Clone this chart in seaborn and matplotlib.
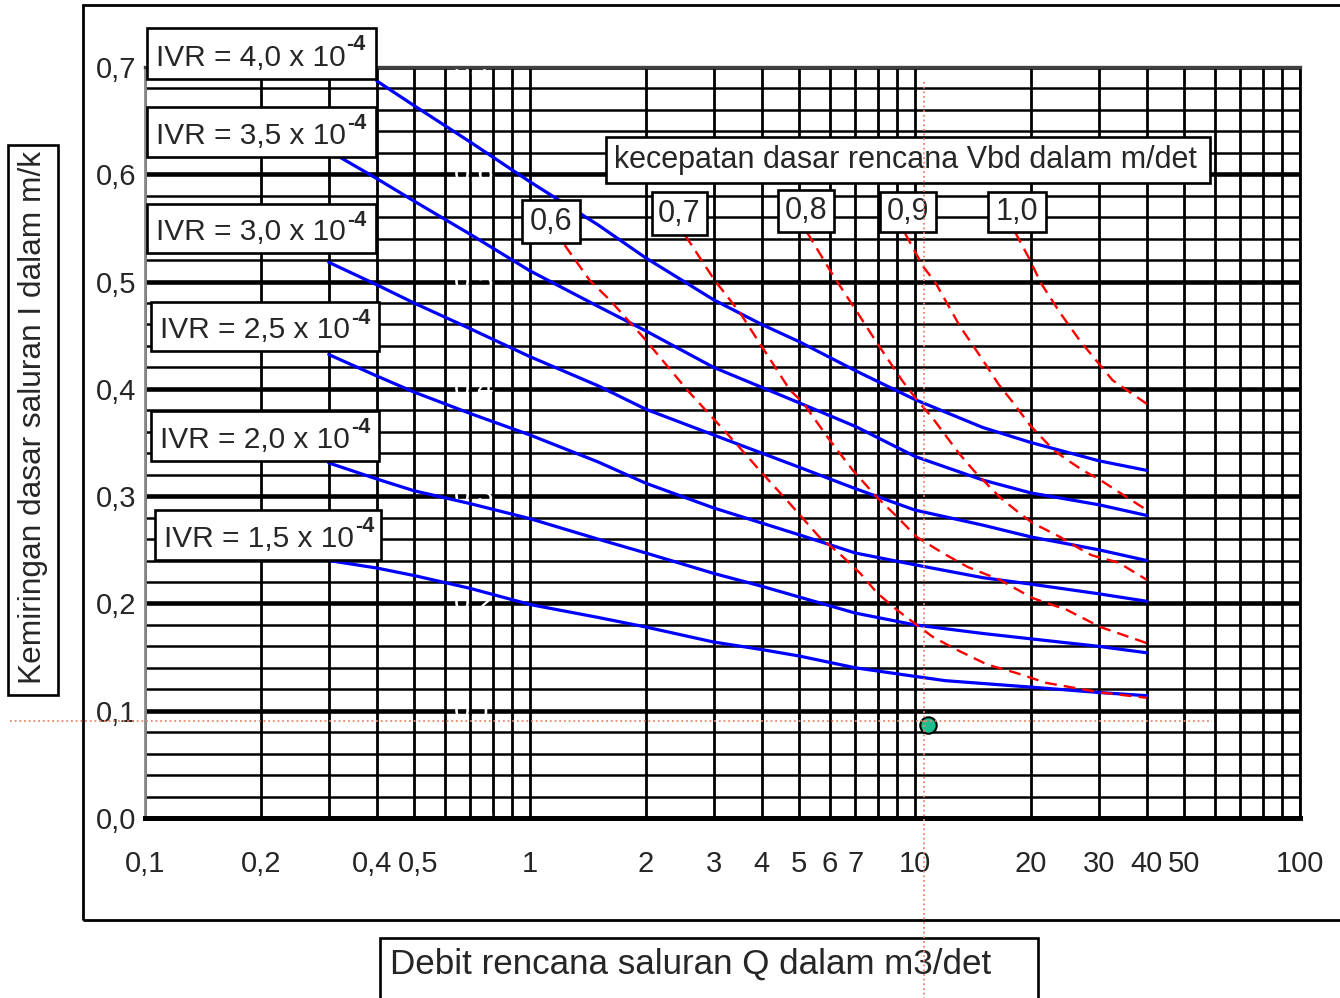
import numpy as np
import pandas as pd
import matplotlib
matplotlib.use("Agg")
import matplotlib.pyplot as plt
import seaborn as sns
from matplotlib.patches import Rectangle
from matplotlib.lines import Line2D
from matplotlib.transforms import blended_transform_factory, ScaledTranslation
from matplotlib.ticker import FixedLocator, FuncFormatter

# ---------------- data ----------------
ivr_labels = ["4,0", "3,5", "3,0", "2,5", "2,0", "1,5"]

q_ivr40 = [0.4, 0.5, 0.7, 1, 1.5, 2, 3, 4, 5, 7, 10, 15, 20, 30, 40]
i_ivr40 = [0.687, 0.664, 0.630, 0.593, 0.553, 0.522, 0.483, 0.460, 0.444, 0.417, 0.390, 0.364, 0.350, 0.333, 0.324]

q_ivr35 = [0.3, 0.4, 0.5, 0.7, 1, 1.5, 2, 3, 5, 7, 10, 15, 20, 30, 40]
i_ivr35 = [0.622, 0.596, 0.575, 0.544, 0.510, 0.477, 0.454, 0.420, 0.387, 0.365, 0.337, 0.315, 0.303, 0.292, 0.282]

q_ivr30 = [0.3, 0.4, 0.5, 0.7, 1, 1.5, 2, 3, 5, 7, 10, 15, 20, 30, 40]
i_ivr30 = [0.518, 0.497, 0.480, 0.456, 0.430, 0.403, 0.381, 0.357, 0.327, 0.307, 0.287, 0.273, 0.262, 0.250, 0.240]

q_ivr25 = [0.3, 0.4, 0.5, 0.7, 1, 1.5, 2, 3, 5, 7, 10, 15, 20, 30, 40]
i_ivr25 = [0.432, 0.412, 0.397, 0.377, 0.357, 0.332, 0.312, 0.289, 0.264, 0.247, 0.236, 0.224, 0.218, 0.209, 0.202]

q_ivr20 = [0.3, 0.4, 0.5, 0.7, 1, 1.5, 2, 3, 4, 5, 7, 10, 15, 20, 30, 40]
i_ivr20 = [0.331, 0.316, 0.305, 0.293, 0.279, 0.260, 0.247, 0.228, 0.216, 0.206, 0.191, 0.180, 0.172, 0.167, 0.160, 0.154]

q_ivr15 = [0.3, 0.4, 0.5, 0.7, 1, 1.5, 2, 3, 4, 5, 7, 10, 12, 20, 30, 40]
i_ivr15 = [0.240, 0.233, 0.226, 0.214, 0.199, 0.187, 0.178, 0.164, 0.157, 0.151, 0.140, 0.132, 0.128, 0.122, 0.117, 0.114]

vbd_labels = ["0,6", "0,7", "0,8", "0,9", "1,0"]

q_v06 = [1.23, 1.43, 1.61, 1.97, 2.56, 3.43, 3.95, 4.65, 5.64, 6.34, 7.21, 7.96, 8.97, 10.1, 11.1, 12.8, 15.4, 18.4, 21.9, 30.3, 40]
i_v06 = [0.534, 0.501, 0.483, 0.448, 0.399, 0.349, 0.324, 0.296, 0.262, 0.247, 0.228, 0.210, 0.194, 0.180, 0.169, 0.157, 0.143, 0.135, 0.126, 0.117, 0.112]

q_v07 = [2.53, 3.02, 3.51, 4.73, 5.12, 6.01, 6.90, 7.96, 8.97, 10.1, 11.8, 13.7, 16.6, 20.2, 24.8, 30.3, 40]
i_v07 = [0.543, 0.501, 0.471, 0.399, 0.387, 0.352, 0.324, 0.299, 0.281, 0.262, 0.247, 0.234, 0.222, 0.205, 0.194, 0.178, 0.163]

q_v08 = [5.24, 6.12, 7.06, 7.96, 9.25, 10.1, 11.1, 13.0, 14.2, 16.6, 18.7, 20.2, 23.8, 26.2, 28.7, 33.8, 40]
i_v08 = [0.546, 0.506, 0.472, 0.443, 0.408, 0.390, 0.373, 0.340, 0.324, 0.299, 0.284, 0.275, 0.262, 0.253, 0.245, 0.238, 0.222]

q_v09 = [9.42, 10.5, 11.3, 13.1, 14.8, 16.5, 18.0, 19.9, 22.9, 24.8, 27.3, 30.3, 34.1, 40]
i_v09 = [0.545, 0.514, 0.499, 0.458, 0.430, 0.404, 0.387, 0.366, 0.343, 0.334, 0.324, 0.315, 0.303, 0.287]

q_v10 = [18.2, 19.9, 21.2, 23.8, 26.8, 29.0, 32.6, 40]
i_v10 = [0.546, 0.520, 0.499, 0.471, 0.445, 0.430, 0.408, 0.386]

point_q = [10.8]
point_i = [0.087]
cross_q = 10.55
cross_i = 0.09

x_major = [0.1, 1, 10, 100]
x_minor = [m * d for d in (0.1, 1, 10) for m in range(2, 10)]
x_label_vals = [0.1, 0.2, 0.4, 0.5, 1, 2, 3, 4, 5, 6, 7, 10, 20, 30, 40, 50, 100]
x_label_txt = ["0,1", "0,2", "0,4", "0,5", "1", "2", "3", "4", "5", "6", "7", "10", "20", "30", "40", "50", "100"]
y_major = [0.0, 0.1, 0.2, 0.3, 0.4, 0.5, 0.6, 0.7]
y_label_txt = ["0,0", "0,1", "0,2", "0,3", "0,4", "0,5", "0,6", "0,7"]
y_minor = [v / 100 for v in range(2, 70, 2) if v % 10 != 0]

# ---------------- style ----------------
sns.set_style("white")
plt.rcParams["font.family"] = ["Liberation Sans", "DejaVu Sans"]

W, H = 1340, 998
fig = plt.figure(figsize=(W / 100, H / 100), dpi=100)
fig.patch.set_facecolor("white")


def fx(x):
    return x / W


def fy(y):
    return 1 - y / H


ax = fig.add_axes([fx(145), fy(818), fx(1300) - fx(145), fy(67) - fy(818)])
ax.set_facecolor("white")

ivr_q = [q_ivr40, q_ivr35, q_ivr30, q_ivr25, q_ivr20, q_ivr15]
ivr_i = [i_ivr40, i_ivr35, i_ivr30, i_ivr25, i_ivr20, i_ivr15]
ivr_df = pd.concat([pd.DataFrame({"Q": q, "I": i, "IVR": lab})
                    for q, i, lab in zip(ivr_q, ivr_i, ivr_labels)], ignore_index=True)

vbd_q = [q_v06, q_v07, q_v08, q_v09, q_v10]
vbd_i = [i_v06, i_v07, i_v08, i_v09, i_v10]
vbd_df = pd.concat([pd.DataFrame({"Q": q, "I": i, "Vbd": lab})
                    for q, i, lab in zip(vbd_q, vbd_i, vbd_labels)], ignore_index=True)

ax.set_xscale("log")

sns.lineplot(data=ivr_df, x="Q", y="I", hue="IVR",
             palette={lab: "#0000FF" for lab in ivr_labels},
             estimator=None, sort=True, legend=False, lw=2.3, ax=ax, zorder=3)
sns.lineplot(data=vbd_df, x="Q", y="I", hue="Vbd",
             palette={lab: "#FF0000" for lab in vbd_labels},
             estimator=None, sort=True, legend=False, lw=1.7,
             linestyle=(0, (5, 3)), ax=ax, zorder=3.2)
sns.scatterplot(x=point_q, y=point_i, s=140, color="#1DBF8E", edgecolor="black",
                linewidth=1.5, ax=ax, zorder=6, legend=False)

ax.set_xlim(0.1, 100)
ax.set_ylim(0, 0.7)


def fmt_x(v, pos=None):
    for lv, lt in zip(x_label_vals, x_label_txt):
        if np.isclose(v, lv, rtol=1e-6):
            return lt
    return ""


ax.xaxis.set_major_locator(FixedLocator(x_major))
ax.xaxis.set_minor_locator(FixedLocator(x_minor))
ax.xaxis.set_major_formatter(FuncFormatter(fmt_x))
ax.xaxis.set_minor_formatter(FuncFormatter(fmt_x))
ax.tick_params(axis="x", which="major", length=6, width=3.5, direction="out",
               pad=17, labelsize=21, color="black")
ax.tick_params(axis="x", which="minor", length=0, pad=23, labelsize=21)

ax.set_yticks(y_major)
ax.set_yticklabels(y_label_txt)
ax.set_yticks(y_minor, minor=True)
ax.tick_params(axis="y", which="both", length=0, pad=6, labelsize=21)

ax.set_xlabel("")
ax.set_ylabel("")

ax.grid(True, which="major", axis="y", color="black", lw=3.3)
ax.grid(True, which="minor", axis="y", color="black", lw=1.8)
ax.grid(True, which="both", axis="x", color="black", lw=2.0)
ax.set_axisbelow(True)

ax.spines["top"].set(color="#404040", lw=2.4)
ax.spines["left"].set(color="#8a8a8a", lw=2.0)
ax.spines["bottom"].set(color="black", lw=3.6)
ax.spines["right"].set(color="black", lw=2.0)

# separate the crowded "0,4" / "0,5" labels a little
minor_ticks = ax.xaxis.get_minor_ticks()
for tk, loc in zip(minor_ticks, x_minor):
    if np.isclose(loc, 0.4):
        tk.label1.set_transform(tk.label1.get_transform() + ScaledTranslation(-5 / 100, 0, fig.dpi_scale_trans))
    if np.isclose(loc, 0.5):
        tk.label1.set_transform(tk.label1.get_transform() + ScaledTranslation(4 / 100, 0, fig.dpi_scale_trans))

# hidden white secondary labels (ghost marks)
for v, t in zip(y_major, y_label_txt):
    ax.text(0.715, v, t, color="white", ha="center", va="center", fontsize=21,
            zorder=2.5, clip_on=False)

# ---------------- boxes & texts ----------------
def box(x0, y0, x1, y1, lw=1.9, z=10):
    r = Rectangle((fx(x0), fy(y1)), fx(x1) - fx(x0), fy(y0) - fy(y1),
                  transform=fig.transFigure, facecolor="white", edgecolor="black",
                  lw=lw, zorder=z)
    fig.add_artist(r)


# outer frame
fig.add_artist(Rectangle((fx(83), fy(920)), fx(1350) - fx(83), fy(5) - fy(920),
                         transform=fig.transFigure, facecolor="none",
                         edgecolor="black", lw=2.0, zorder=1))

renderer = fig.canvas.get_renderer()
ivr_boxes = [(147, 28, 376, 79), (147, 107, 376, 157), (147, 204, 376, 253),
             (151, 302, 379, 351), (151, 411, 379, 461), (155, 510, 381, 560)]
for (x0, y0, x1, y1), lab in zip(ivr_boxes, ivr_labels):
    box(x0, y0, x1, y1)
    base = (y0 + y1) / 2 + 12
    t = fig.text(fx(x0 + 9), fy(base), "IVR = " + lab + " x 10",
                 fontsize=21.5, ha="left", va="baseline", zorder=11)
    bb = t.get_window_extent(renderer)
    fig.text(bb.x1 / W + 1 / W, fy(base - 15), "-4", fontsize=15.5,
             fontweight="bold", ha="left", va="baseline", zorder=11)

box(606, 137, 1210, 183)
fig.text(fx(614), fy(160), "kecepatan dasar rencana Vbd dalam m/det",
         fontsize=22, ha="left", va="center", zorder=11)

vbd_boxes = [(522, 200, 580, 243), (652, 192, 707, 235), (778, 190, 834, 232),
             (880, 192, 936, 232), (988, 192, 1046, 232)]
for (x0, y0, x1, y1), lab in zip(vbd_boxes, vbd_labels):
    box(x0, y0, x1, y1)
    fig.text(fx((x0 + x1) / 2), fy((y0 + y1) / 2), lab, fontsize=22,
             ha="center", va="center", zorder=11)

# y label box
box(8, 145, 58, 695)
fig.text(fx(33), fy(418), "Kemiringan dasar saluran I dalam m/k", rotation=90,
         fontsize=22.8, ha="center", va="center", zorder=11)

# x label box
box(380, 938, 1038, 1005)
fig.text(fx(390), fy(964), "Debit rencana saluran Q dalam m3/det",
         fontsize=25.2, ha="left", va="center", zorder=11)

# crosshair (dotted)
tv = blended_transform_factory(ax.transData, fig.transFigure)
th = blended_transform_factory(fig.transFigure, ax.transData)
fig.add_artist(Line2D([cross_q, cross_q], [fy(82), fy(1000)], transform=tv,
                      color="#E8876A", lw=1.3, linestyle=(0, (1, 1.6)), zorder=20))
fig.add_artist(Line2D([fx(10), fx(1212)], [cross_i, cross_i], transform=th,
                      color="#E8876A", lw=1.3, linestyle=(0, (1, 1.6)), zorder=20))

fig.savefig("out.png", dpi=100, facecolor="white")
